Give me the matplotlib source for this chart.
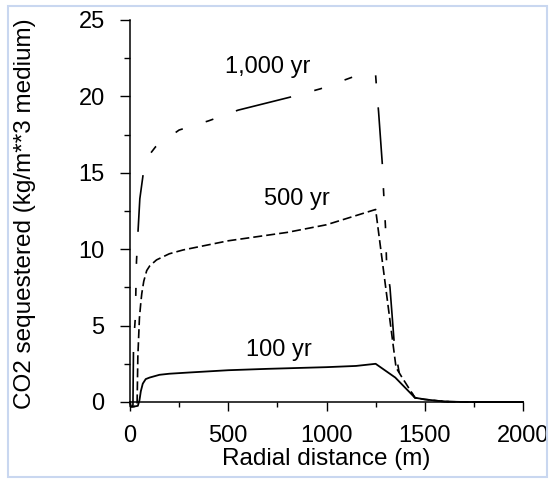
import matplotlib
matplotlib.use("Agg")
import matplotlib.pyplot as plt
from matplotlib.patches import Rectangle
from matplotlib.ticker import MultipleLocator

plt.rcParams['font.family'] = ['Liberation Sans', 'DejaVu Sans']
plt.rcParams['lines.scale_dashes'] = False

# CO2 sequestered vs radial distance
dist_100 = [0, 3, 20, 40, 48, 55, 65, 80, 100, 150, 200, 300, 500, 700, 1000, 1150, 1250, 1350, 1450, 1500, 1600, 1700, 2000]
co2_100 = [0, -0.3, -0.3, -0.25, 0.1, 0.7, 1.2, 1.5, 1.6, 1.78, 1.85, 1.93, 2.08, 2.17, 2.28, 2.36, 2.5, 1.6, 0.28, 0.17, 0.03, 0.0, 0.0]

dist_500 = [0, 3, 20, 36, 40, 48, 55, 60, 70, 85, 100, 135, 200, 270, 500, 800, 1000, 1250, 1354, 1380, 1450, 1500, 1600, 1700, 2000]
co2_500 = [0, -0.3, -0.3, -0.2, 3.0, 5.5, 6.5, 7.1, 7.9, 8.6, 8.9, 9.3, 9.7, 9.95, 10.55, 11.1, 11.6, 12.6, 2.25, 1.7, 0.28, 0.17, 0.03, 0.0, 0.0]

dist_1000 = [0, 3, 12, 15, 18, 27, 33, 41, 50, 68, 100, 130, 250, 400, 550, 830, 970, 1140, 1250, 1255, 1265, 1285, 1290, 1300, 1306, 1323, 1345, 1370, 1450, 1500, 1600, 1700, 2000]
co2_1000 = [0, -0.3, -0.3, -0.2, 3.8, 5.5, 9.2, 11.2, 13.3, 15.0, 16.2, 16.7, 17.8, 18.4, 19.1, 20.0, 20.5, 21.3, 21.4, 20.5, 19.0, 15.4, 13.9, 11.5, 9.0, 7.5, 3.8, 1.9, 0.28, 0.17, 0.03, 0.0, 0.0]

labels = ["100 yr", "500 yr", "1,000 yr"]
label_pos = [(758, 3.4), (847, 13.3), (702, 21.9)]

fig = plt.figure(figsize=(5.5, 4.79), dpi=100)
ax = fig.add_axes([130 / 550, 1 - 402 / 479, 393 / 550, 382 / 479])

# light blue frame round the picture
fig.patches.append(Rectangle((8 / 550, 2 / 479), 539 / 550, 471 / 479,
                             transform=fig.transFigure, fill=False,
                             edgecolor='#c9d7f0', linewidth=1.5))

ax.plot(dist_100, co2_100, color='black', lw=1.3)
ax.plot(dist_500, co2_500, color='black', lw=1.2, linestyle=(0, (6.5, 2.9)))
# long dash then three short ones
ax.plot(dist_1000, co2_1000, color='black', lw=1.2,
        linestyle=(124.6, (41, 17.3, 5.8, 17.3, 5.8, 17.3, 5.8, 17.3)))

for txt, (x, y) in zip(labels, label_pos):
    ax.text(x, y, txt, fontsize=17, ha='center', va='center')

ax.set_xlim(0, 2000)
ax.set_ylim(0, 25)
ax.xaxis.set_major_locator(MultipleLocator(500))
ax.xaxis.set_minor_locator(MultipleLocator(250))
ax.yaxis.set_major_locator(MultipleLocator(5))
ax.yaxis.set_minor_locator(MultipleLocator(2.5))

ax.spines['top'].set_visible(False)
ax.spines['right'].set_visible(False)
for s in ['left', 'bottom']:
    ax.spines[s].set_linewidth(1.1)

ax.tick_params(axis='y', which='major', direction='out', length=7.2, width=1.0, pad=11, labelsize=17)
ax.tick_params(axis='y', which='minor', direction='out', length=4.3, width=1.0)
ax.tick_params(axis='x', which='major', direction='out', length=6.5, width=1.0, pad=10, labelsize=17)
ax.tick_params(axis='x', which='minor', direction='out', length=3.6, width=1.0)
for ln in ax.lines:
    ln.set_clip_on(False)

ax.set_xlabel("Radial distance (m)", fontsize=17.5, va='center')
ax.xaxis.set_label_coords(0.5, -0.15)
ax.set_ylabel("CO2 sequestered (kg/m**3 medium)", fontsize=17.5, va='center')
ax.yaxis.set_label_coords(-0.267, 0.493)

fig.savefig("out.png", dpi=100)
